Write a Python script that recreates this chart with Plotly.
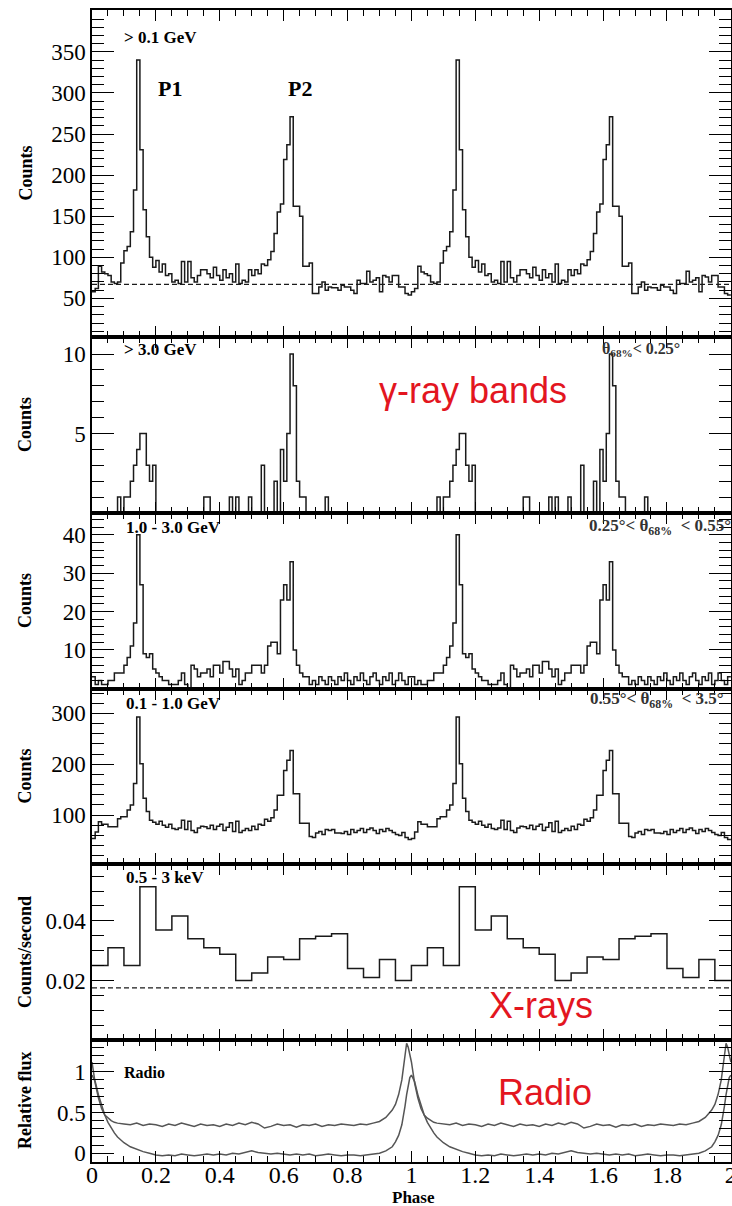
import plotly.graph_objects as go

# ---------------- data (one rotation, repeated for the second) ----------------
gamma_bin_width = 0.01
counts_gt_0p1 = [58, 62, 89, 82, 80, 78, 70, 68, 70, 93, 108, 113, 131, 182, 340, 231, 158, 125, 100, 88,
                 96, 82, 92, 78, 80, 70, 72, 68, 95, 70, 95, 75, 70, 78, 85, 85, 80, 75, 88, 78,
                 72, 85, 75, 80, 70, 92, 68, 72, 70, 85, 78, 85, 80, 92, 90, 97, 107, 129, 155, 165,
                 219, 237, 271, 162, 162, 150, 89, 89, 93, 56, 56, 64, 70, 60, 64, 63, 63, 60, 66, 64,
                 64, 60, 56, 72, 68, 68, 83, 70, 72, 75, 58, 78, 76, 70, 78, 78, 64, 64, 56, 54]
counts_gt_3 = [0, 0, 0, 0, 0, 0, 0, 0, 1, 0, 1, 1, 2, 3, 4, 5, 5, 3, 2, 3,
               0, 0, 0, 0, 0, 0, 0, 0, 0, 0, 0, 0, 0, 0, 0, 1, 1, 0, 0, 0,
               0, 0, 0, 1, 0, 1, 0, 0, 0, 1, 0, 0, 0, 3, 0, 0, 0, 2, 0, 4,
               2, 5, 10, 8, 2, 1, 1, 0, 0, 0, 0, 0, 0, 1, 0, 0, 0, 0, 0, 0,
               0, 0, 0, 0, 0, 0, 0, 0, 0, 0, 0, 0, 0, 0, 0, 0, 0, 0, 0, 0]
counts_1_3 = [3, 1, 2, 1, 1, 2, 2, 4, 4, 4, 6, 8, 11, 17, 40, 27, 9, 8, 9, 5,
              4, 3, 2, 2, 1, 1, 1, 2, 4, 1, 0, 6, 5, 3, 4, 4, 5, 3, 6, 6,
              4, 7, 7, 5, 3, 5, 1, 2, 4, 4, 6, 6, 6, 4, 6, 11, 12, 12, 9, 23,
              27, 23, 33, 10, 6, 4, 3, 3, 1, 2, 1, 3, 2, 1, 3, 2, 1, 3, 2, 4,
              2, 1, 3, 2, 4, 2, 1, 3, 4, 2, 1, 3, 2, 4, 1, 2, 4, 2, 1, 3]
counts_0p1_1 = [54, 67, 87, 82, 82, 77, 77, 77, 93, 97, 97, 110, 120, 162, 293, 201, 133, 107, 90, 86,
                82, 88, 80, 76, 82, 74, 72, 75, 90, 72, 88, 70, 66, 75, 78, 77, 74, 80, 72, 78,
                82, 70, 76, 85, 68, 88, 66, 70, 74, 70, 78, 72, 82, 80, 92, 88, 95, 110, 139, 139,
                188, 208, 227, 142, 142, 84, 84, 84, 58, 56, 65, 68, 62, 72, 70, 72, 65, 65, 64, 68,
                62, 72, 66, 70, 74, 66, 72, 75, 70, 64, 72, 68, 74, 70, 66, 62, 60, 66, 56, 52]
gamma_background = 67

xray_bin_width = 0.05
xray_rate = [0.025, 0.031, 0.025, 0.0515, 0.0369, 0.0416, 0.034, 0.031, 0.0288, 0.020,
             0.0225, 0.0279, 0.027, 0.034, 0.0348, 0.0357, 0.024, 0.021, 0.027, 0.020]
xray_background = 0.0175

radio_phase = [0.00, 0.01, 0.02, 0.03, 0.04, 0.05, 0.06, 0.07, 0.08, 0.10, 0.12, 0.14, 0.16, 0.18,
               0.20, 0.22, 0.24, 0.26, 0.28, 0.30, 0.32, 0.34, 0.36, 0.38, 0.40, 0.42, 0.44, 0.46,
               0.48, 0.50, 0.52, 0.54, 0.56, 0.58, 0.60, 0.62, 0.64, 0.66, 0.68, 0.70, 0.72, 0.74,
               0.76, 0.78, 0.80, 0.82, 0.84, 0.86, 0.88, 0.90, 0.92, 0.93, 0.94, 0.95, 0.96, 0.97,
               0.975, 0.98, 0.985, 0.99, 0.995]
radio_upper = [1.12, 0.86, 0.68, 0.55, 0.47, 0.43, 0.40, 0.38, 0.37, 0.36, 0.35, 0.37, 0.34, 0.36,
               0.35, 0.33, 0.36, 0.34, 0.37, 0.35, 0.33, 0.36, 0.34, 0.35, 0.33, 0.36, 0.34, 0.37,
               0.35, 0.38, 0.36, 0.31, 0.33, 0.36, 0.34, 0.35, 0.32, 0.35, 0.34, 0.36, 0.33, 0.35,
               0.34, 0.36, 0.35, 0.34, 0.36, 0.35, 0.37, 0.39, 0.44, 0.48, 0.53, 0.60, 0.72, 0.90,
               1.05, 1.22, 1.35, 1.30, 1.22]
radio_lower = [0.96, 0.88, 0.72, 0.58, 0.47, 0.38, 0.31, 0.25, 0.20, 0.13, 0.08, 0.05, 0.02, 0.00,
               -0.02, -0.03, -0.02, -0.03, -0.01, -0.02, -0.03, -0.02, -0.01, -0.02, -0.01, -0.02, 0.00, -0.01,
               0.01, 0.03, 0.01, 0.00, -0.01, 0.00, -0.01, -0.02, -0.01, -0.02, -0.01, -0.03, -0.02, -0.01,
               -0.02, -0.03, -0.02, -0.02, -0.03, -0.02, -0.01, 0.00, 0.03, 0.05, 0.08, 0.14, 0.22, 0.35,
               0.45, 0.58, 0.72, 0.85, 0.93]

n_cycles = 2

# ---------------- helpers ----------------
def step_xy(values, width):
    xs, ys = [], []
    for c in range(n_cycles):
        for i, v in enumerate(values):
            xs.append(c + i * width)
            ys.append(v)
    xs.append(n_cycles * 1.0)
    ys.append(values[-1])
    return xs, ys


def curve_xy(phase, values):
    xs, ys = [], []
    for c in range(n_cycles):
        xs += [c + p for p in phase]
        ys += list(values)
    xs.append(float(n_cycles))
    ys.append(values[0])
    return xs, ys


SERIF = "Liberation Serif"
SANS = "Liberation Sans"
LINE = "#1a1a1a"

L, R, T, B = 92, 1, 10, 44
FW, FH = 732, 1206
W = FW - L - R
H = FH - T - B

def px(xp):
    return (xp - L) / W

def py(yp):
    return (FH - B - yp) / H

# panel pixel boundaries (top, bottom)
panels = [(10, 337), (337, 513), (513, 689), (689, 864), (864, 1040), (1040, 1162)]

fig = go.Figure()

hist_sets = [(counts_gt_0p1, gamma_bin_width), (counts_gt_3, gamma_bin_width),
             (counts_1_3, gamma_bin_width), (counts_0p1_1, gamma_bin_width),
             (xray_rate, xray_bin_width)]
for k, (vals, w) in enumerate(hist_sets):
    xs, ys = step_xy(vals, w)
    xa = "x" if k == 0 else f"x{k+1}"
    ya = "y" if k == 0 else f"y{k+1}"
    fig.add_trace(go.Scatter(x=xs, y=ys, mode="lines", line=dict(shape="hv", color=LINE, width=1.5),
                             xaxis=xa, yaxis=ya, hoverinfo="skip", showlegend=False))

# background dashed lines
fig.add_trace(go.Scatter(x=[0, n_cycles], y=[gamma_background] * 2, mode="lines",
                         line=dict(color=LINE, width=1.2, dash="5px,3px"), xaxis="x", yaxis="y",
                         hoverinfo="skip", showlegend=False))
fig.add_trace(go.Scatter(x=[0, n_cycles], y=[xray_background] * 2, mode="lines",
                         line=dict(color=LINE, width=1.2, dash="5px,3px"), xaxis="x5", yaxis="y5",
                         hoverinfo="skip", showlegend=False))

for vals in (radio_upper, radio_lower):
    xs, ys = curve_xy(radio_phase, vals)
    fig.add_trace(go.Scatter(x=xs, y=ys, mode="lines", line=dict(color="#555555", width=1.5),
                             xaxis="x6", yaxis="y6", hoverinfo="skip", showlegend=False))

y_specs = [
    dict(range=[3, 401], tickvals=[50, 100, 150, 200, 250, 300, 350], minor=10),
    dict(range=[0, 11.07], tickvals=[5, 10], minor=1),
    dict(range=[-0.2, 45.7], tickvals=[10, 20, 30, 40], minor=2),
    dict(range=[4, 348], tickvals=[100, 200, 300], minor=20),
    dict(range=[0, 0.0591], tickvals=[0.02, 0.04], minor=0.005),
    dict(range=[-0.107, 1.39], tickvals=[0, 0.5, 1], minor=0.1),
]

layout = dict(
    width=FW, height=FH,
    margin=dict(l=L, r=R, t=T, b=B, pad=0),
    paper_bgcolor="white", plot_bgcolor="white",
    showlegend=False, hovermode=False,
)

for k in range(6):
    top, bot = panels[k]
    dom = [(FH - B - bot) / H, (FH - B - top) / H]
    dom = [max(0.0, dom[0]), min(1.0, dom[1])]
    xname = "xaxis" if k == 0 else f"xaxis{k+1}"
    yname = "yaxis" if k == 0 else f"yaxis{k+1}"
    xa = "x" if k == 0 else f"x{k+1}"
    ya = "y" if k == 0 else f"y{k+1}"
    layout[xname] = dict(
        range=[0, 2.0005], domain=[0, 1], anchor=ya, automargin=False,
        showline=True, linecolor="black", linewidth=1.5, mirror="allticks",
        ticks="inside", ticklen=11, tickwidth=1.3, tickcolor="black",
        tickmode="linear", tick0=0, dtick=0.2,
        minor=dict(tickmode="linear", tick0=0, dtick=0.05, ticks="inside", ticklen=6,
                   tickwidth=1, tickcolor="black", showgrid=False),
        showgrid=False, zeroline=False, showticklabels=(k == 5),
        ticklabelstandoff=-10, ticklabeloverflow="allow",
        tickfont=dict(family=SERIF, size=24, color="black"),
    )
    s = y_specs[k]
    layout[yname] = dict(
        range=s["range"], domain=dom, anchor=xa, automargin=False,
        showline=True, linecolor="black", linewidth=1.5, mirror="allticks",
        ticks="inside", ticklen=22, tickwidth=1.3, tickcolor="black",
        tickmode="array", tickvals=s["tickvals"],
        minor=dict(tickmode="linear", tick0=0, dtick=s["minor"], ticks="inside", ticklen=12,
                   tickwidth=1, tickcolor="black", showgrid=False),
        showgrid=False, zeroline=False,
        tickfont=dict(family=SERIF, size=23, color="black"),
    )

fig.update_layout(**layout)

ann = []

def add(text, xp, yp, size, xanchor="left", family=SERIF, bold=True, color="black", angle=0):
    ann.append(dict(text=text, x=px(xp), y=py(yp), xref="paper", yref="paper",
                    xanchor=xanchor, yanchor="middle", showarrow=False, textangle=angle,
                    font=dict(family=family, size=size, color=color,
                              weight="bold" if bold else "normal")))

# axis titles
for k, t in enumerate(["Counts", "Counts", "Counts", "Counts", "Counts/second", "Relative flux"]):
    top, bot = panels[k]
    add(t, 25, (top + bot) / 2, 18, xanchor="center", angle=-90)
add("Phase", 414, 1197, 17, xanchor="center")

# panel labels
add("&gt; 0.1 GeV", 122, 37, 17)
add("P1", 156, 88, 22)
add("P2", 286, 88, 22)
add("&gt; 3.0 GeV", 122, 349, 17)
add("θ<sub>68%</sub>&lt; 0.25°", 682, 350, 16, xanchor="right", color="#333333")
add("1.0 - 3.0 GeV", 124, 527, 17)
add("0.25°&lt; θ<sub>68%</sub>  &lt; 0.55°", 733, 527, 17, xanchor="right", color="#333333")
add("0.1 - 1.0 GeV", 124, 703, 17)
add("0.55°&lt; θ<sub>68%</sub>  &lt; 3.5°", 726, 700, 17, xanchor="right", color="#333333")
add("0.5 - 3 keV", 124, 877, 17)
add("Radio", 122, 1072, 16)

# red annotations
RED = "#e3161f"
add("γ-ray bands", 377, 390, 36, family=SANS, bold=False, color=RED)
add("X-rays", 487, 1005, 36, family=SANS, bold=False, color=RED)
add("Radio", 496, 1092, 36, family=SANS, bold=False, color=RED)

fig.update_layout(annotations=ann)

fig.write_html("out.html")
